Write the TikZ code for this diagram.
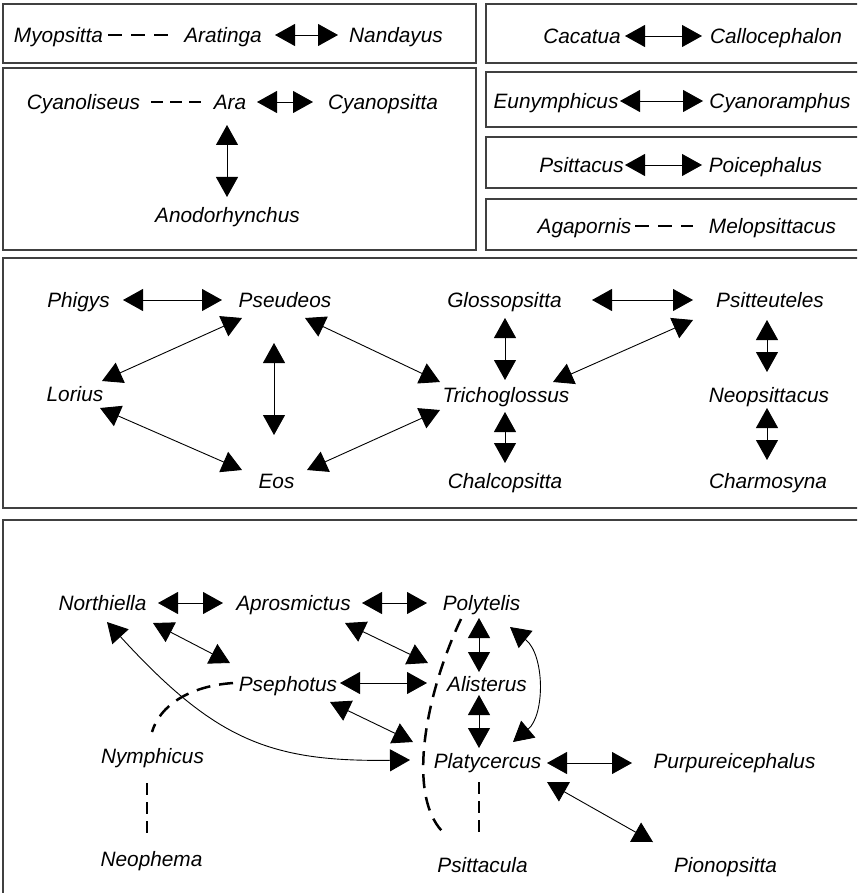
\documentclass[tikz,border=0pt]{standalone}
\usepackage{fontspec}
\setmainfont{Liberation Sans}
\usetikzlibrary{arrows.meta}
\tikzset{
  lab/.style={font=\fontsize{20.8}{25}\selectfont\itshape, inner sep=0pt, text height=15pt, text depth=0pt},
  frame/.style={draw=black!75, line width=1.3pt},
  dbl/.style={line width=0.9pt, {Triangle[length=20pt,width=22pt]}-{Triangle[length=20pt,width=22pt]}},
  dsh/.style={line width=2.5pt, dash pattern=on 14pt off 9pt},
  dshs/.style={line width=2.5pt, dash pattern=on 12pt off 7pt},
}
\begin{document}
\begin{tikzpicture}[x=1pt,y=-1pt]
\useasboundingbox (0,0) rectangle (857,893);
\clip (0,0) rectangle (857,893);
% frames
\draw[frame] (3,4) rectangle (476,63);
\draw[frame] (3,68) rectangle (476,250);
\draw[frame] (486,4) rectangle (870,63);
\draw[frame] (486,72) rectangle (870,127);
\draw[frame] (486,137) rectangle (870,188);
\draw[frame] (486,199) rectangle (870,250);
\draw[frame] (3,258) rectangle (870,508);
\draw[frame] (3,520) rectangle (870,910);

% box 1
\node[lab] (myo) at (58.5,35) {Myopsitta};
\node[lab] (arat) at (223,35) {Aratinga};
\node[lab] (nan) at (396,35) {Nandayus};
\draw[dsh] ([shift={(49.5,0)}]myo.center) -- ([shift={(-55,0)}]arat.center);
\draw[dbl] ([shift={(52,0)}]arat.center) -- ([shift={(-58,0)}]nan.center);

% box 2
\node[lab] (cyl) at (83.5,102) {Cyanoliseus};
\node[lab] (ara) at (230,102) {Ara};
\node[lab] (cyp) at (383,102) {Cyanopsitta};
\node[lab] (ano) at (227.5,215) {Anodorhynchus};
\draw[dshs] ([shift={(67.5,0)}]cyl.center) -- ([shift={(-28,0)}]ara.center);
\draw[dbl] ([shift={(27,0)}]ara.center) -- ([shift={(-70,0)}]cyp.center);
\draw[dbl] ([shift={(-3,23)}]ara.center) -- ([shift={(-0.5,-18)}]ano.center);

% right column
\node[lab] (cac) at (582,36) {Cacatua};
\node[lab] (cal) at (776,36) {Callocephalon};
\draw[dbl] ([shift={(43,0)}]cac.center) -- ([shift={(-74,0)}]cal.center);
\node[lab] (eun) at (556,101) {Eunymphicus};
\node[lab] (cyr) at (780,101) {Cyanoramphus};
\draw[dbl] ([shift={(64,0)}]eun.center) -- ([shift={(-77,0)}]cyr.center);
\node[lab] (psc) at (581.5,165) {Psittacus};
\node[lab] (poi) at (765.5,165) {Poicephalus};
\draw[dbl] ([shift={(43.5,0)}]psc.center) -- ([shift={(-63.5,0)}]poi.center);
\node[lab] (aga) at (584.5,226) {Agapornis};
\node[lab] (mel) at (772.5,226) {Melopsittacus};
\draw[dsh] ([shift={(50.5,0)}]aga.center) -- ([shift={(-79.5,0)}]mel.center);

% box 3
\node[lab] (phi) at (78.5,300) {Phigys};
\node[lab] (pse) at (285,300) {Pseudeos};
\node[lab] (lor) at (75,394) {Lorius};
\node[lab] (eos) at (276.5,481) {Eos};
\node[lab] (glo) at (504.5,300) {Glossopsitta};
\node[lab] (psi) at (770,300) {Psitteuteles};
\node[lab] (tri) at (506,395) {Trichoglossus};
\node[lab] (neo) at (769,395) {Neopsittacus};
\node[lab] (cha) at (505,481) {Chalcopsitta};
\node[lab] (chr) at (768,481) {Charmosyna};
\draw[dbl] ([shift={(44.5,0)}]phi.center) -- ([shift={(-63,0)}]pse.center);
\draw[dbl] ([shift={(-43,18)}]pse.center) -- ([shift={(27,-13)}]lor.center);
\draw[dbl] ([shift={(-11,43)}]pse.center) -- ([shift={(-2.5,-46)}]eos.center);
\draw[dbl] ([shift={(20,18)}]pse.center) -- ([shift={(-66,-13)}]tri.center);
\draw[dbl] ([shift={(25,14)}]lor.center) -- ([shift={(-34.5,-11)}]eos.center);
\draw[dbl] ([shift={(30.5,-11)}]eos.center) -- ([shift={(-66,15)}]tri.center);
\draw[dbl] ([shift={(87.5,0)}]glo.center) -- ([shift={(-77,0)}]psi.center);
\draw[dbl] ([shift={(0.5,18)}]glo.center) -- ([shift={(-1,-15)}]tri.center);
\draw[dbl] ([shift={(-77,20)}]psi.center) -- ([shift={(47,-13)}]tri.center);
\draw[dbl] ([shift={(-1,17)}]tri.center) -- ([shift={(0,-18)}]cha.center);
\draw[dbl] ([shift={(-3,20)}]psi.center) -- ([shift={(-2,-23)}]neo.center);
\draw[dbl] ([shift={(-2,13)}]neo.center) -- ([shift={(-1,-21)}]chr.center);

% box 4
\node[lab] (nor) at (102.5,603) {Northiella};
\node[lab] (apr) at (293.5,603) {Aprosmictus};
\node[lab] (pol) at (481.5,603) {Polytelis};
\node[lab] (psp) at (288,684) {Psephotus};
\node[lab] (ali) at (487,684) {Alisterus};
\node[lab] (nym) at (152.5,756) {Nymphicus};
\node[lab] (pla) at (487.5,761) {Platycercus};
\node[lab] (pur) at (734.5,761) {Purpureicephalus};
\node[lab] (neh) at (151.5,859) {Neophema};
\node[lab] (psa) at (482.5,865) {Psittacula};
\node[lab] (pio) at (725.5,865) {Pionopsitta};
\draw[dbl] ([shift={(55.5,0)}]nor.center) -- ([shift={(-70.5,0)}]apr.center);
\draw[dbl] ([shift={(68.5,0)}]apr.center) -- ([shift={(-54.5,0)}]pol.center);
\draw[dbl] ([shift={(50.5,20)}]nor.center) -- ([shift={(-58,-21)}]psp.center);
\draw[dbl] ([shift={(51.5,20)}]apr.center) -- ([shift={(-59,-21)}]ali.center);
\draw[dbl] ([shift={(52,-1)}]psp.center) -- ([shift={(-60,-1)}]ali.center);
\draw[dbl] ([shift={(42,18)}]psp.center) -- ([shift={(-74.5,-19)}]pla.center);
\draw[dbl] ([shift={(-2.5,15)}]pol.center) -- ([shift={(-8,-12)}]ali.center);
\draw[dbl] ([shift={(-8,11)}]ali.center) -- ([shift={(-8.5,-13)}]pla.center);
\draw[dbl] ([shift={(28.5,24)}]pol.center) .. controls (545,655) and (545,715) .. ([shift={(25.5,-19)}]pla.center);
\draw[dbl] ([shift={(4.5,19)}]nor.center) .. controls (215,740) and (270,762) .. ([shift={(-77.5,-1)}]pla.center);
\draw[dbl] ([shift={(59.5,2)}]pla.center) -- ([shift={(-102.5,2)}]pur.center);
\draw[dbl] ([shift={(59.5,21)}]pla.center) -- ([shift={(-72.5,-23)}]pio.center);
\draw[dsh] ([shift={(-55,-1)}]psp.center) .. controls (190,686) and (160,705) .. ([shift={(-0.5,-24)}]nym.center);
\draw[dshs] ([shift={(-5.5,27)}]nym.center) -- ([shift={(-4.5,-21)}]neh.center);
\draw[dshs] ([shift={(-8.5,21)}]pla.center) -- ([shift={(-3.5,-30)}]psa.center);
\draw[dsh] ([shift={(-20.5,16)}]pol.center) .. controls (425,695) and (405,800) .. ([shift={(-36.5,-30)}]psa.center);
\end{tikzpicture}
\end{document}
